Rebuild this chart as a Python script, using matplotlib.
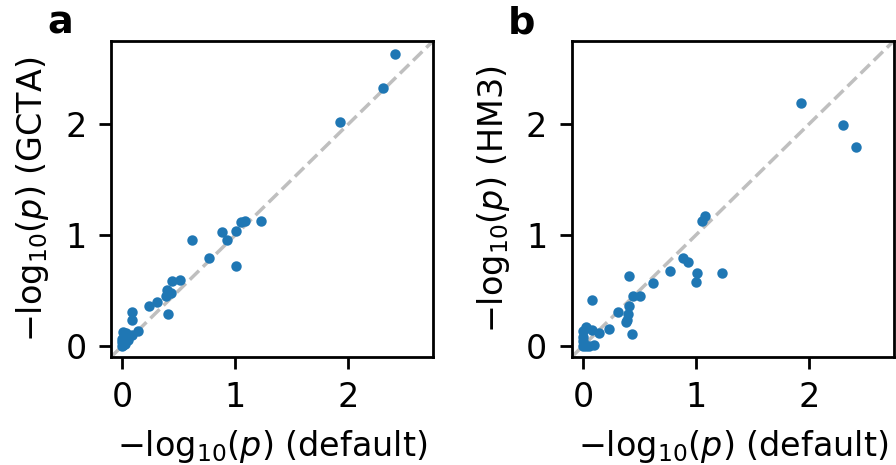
import matplotlib
matplotlib.use("Agg")
import matplotlib.pyplot as plt

# -log10(p) values, default pipeline vs. alternatives
default_a = [2.414, 2.305, 1.926, 1.228, 1.083, 1.050, 1.009, 0.885, 0.923, 0.618,
             0.769, 1.003, 0.509, 0.441, 0.396, 0.432, 0.388, 0.408, 0.308, 0.234,
             0.083, 0.089, 0.139, 0.083, 0.009, 0.030, 0.053, 0.0, 0.009, 0.0,
             0.024, 0.0]
gcta = [2.63, 2.33, 2.02, 1.13, 1.127, 1.117, 1.036, 1.027, 0.955, 0.955,
        0.792, 0.717, 0.596, 0.581, 0.50, 0.476, 0.452, 0.289, 0.395, 0.361,
        0.307, 0.232, 0.133, 0.096, 0.127, 0.12, 0.051, 0.036, 0.006, 0.0,
        0.02, 0.066]

default_b = [2.414, 2.305, 1.926, 1.231, 1.083, 1.053, 1.009, 0.885, 0.926, 0.618,
             0.769, 1.003, 0.509, 0.441, 0.408, 0.408, 0.396, 0.385, 0.390, 0.432,
             0.308, 0.234, 0.083, 0.139, 0.083, 0.030, 0.0, 0.0, 0.0, 0.0,
             0.053, 0.098, 0.030]
hm3 = [1.79, 1.99, 2.19, 0.654, 1.17, 1.127, 0.654, 0.79, 0.76, 0.563,
       0.672, 0.578, 0.452, 0.452, 0.633, 0.361, 0.289, 0.217, 0.238, 0.108,
       0.307, 0.151, 0.413, 0.117, 0.139, 0.169, 0.133, 0.081, 0.042, 0.0,
       0.0, 0.012, 0.0]

lim = (-0.1, 2.75)
ticks = [0, 1, 2]

plt.rcParams["font.size"] = 9.6

fig = plt.figure(figsize=(3.584, 1.86), dpi=250)
ax_a = fig.add_axes([0.1239, 0.2323, 0.3594, 0.6795])
ax_b = fig.add_axes([0.638, 0.2323, 0.3594, 0.6795])

label = r"$-\mathrm{log}_{10}(p)$"
panels = [
    (ax_a, default_a, gcta, label + " (GCTA)", "a", 47),
    (ax_b, default_b, hm3, label + " (HM3)", "b", 508),
]

for ax, x, y, ylabel, letter, letter_x in panels:
    ax.plot(lim, lim, color="0.75", linestyle="--", linewidth=1, zorder=1)
    ax.scatter(x, y, s=4, color="C0", zorder=2)
    ax.set_xlim(lim)
    ax.set_ylim(lim)
    ax.set_xticks(ticks)
    ax.set_yticks(ticks)
    ax.set_xlabel(label + " (default)")
    ax.set_ylabel(ylabel)
    fig.text(letter_x / 896, 1 - 34 / 465, letter, fontsize=11, fontweight="bold",
             ha="left", va="baseline")

fig.savefig("out.png", dpi=250)
